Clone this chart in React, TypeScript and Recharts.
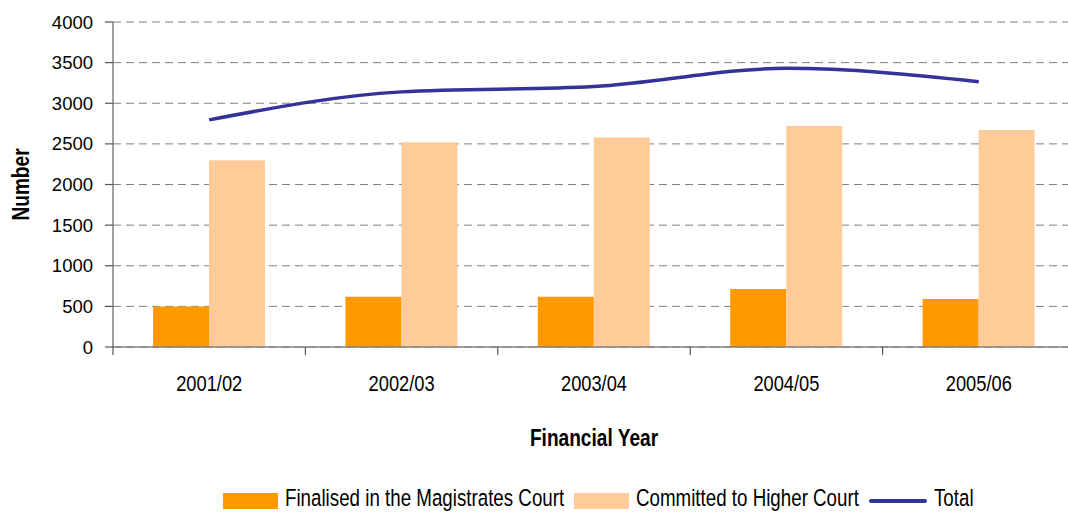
import React from 'react';
import { ComposedChart, Bar, Line, XAxis, YAxis, CartesianGrid, Legend, Label } from 'recharts';

const years = ['2001/02', '2002/03', '2003/04', '2004/05', '2005/06'];
const magistrates = [500, 620, 620, 715, 590];
const committed = [2300, 2520, 2580, 2720, 2670];
const totals = [2795, 3140, 3205, 3430, 3265];
const yTicks = [0, 500, 1000, 1500, 2000, 2500, 3000, 3500, 4000];
const seriesNames = ['Finalised in the Magistrates Court', 'Committed to Higher Court', 'Total'];

const data = years.map((y, i) => ({
  year: y,
  mag: magistrates[i],
  com: committed[i],
  total: totals[i],
}));

const FONT = "'Liberation Sans', Arial, sans-serif";
const SQUEEZE = 0.78;
const LEGEND_SQUEEZE = 0.765;
const TICK_SQUEEZE = 0.85;
const TICK_MARGIN = 29;

let measureCtx: CanvasRenderingContext2D | null = null;
function textWidth(t: string, font: string): number {
  if (!measureCtx) measureCtx = document.createElement('canvas').getContext('2d');
  if (!measureCtx) return t.length * 12;
  measureCtx.font = font;
  return measureCtx.measureText(t).width;
}

const CondensedSpan = ({ text, size, squeeze }: { text: string; size: number; squeeze: number }) => {
  const w = textWidth(text, `${size}px ${FONT}`);
  return (
    <span style={{ display: 'inline-block', width: w * squeeze, whiteSpace: 'nowrap', overflow: 'visible' }}>
      <span style={{ display: 'inline-block', transform: `scaleX(${squeeze})`, transformOrigin: 'left center' }}>
        {text}
      </span>
    </span>
  );
};

const renderLegend = (props: any) => {
  const payload = [...(props.payload || [])].sort(
    (a: any, b: any) => seriesNames.indexOf(a.value) - seriesNames.indexOf(b.value)
  );
  return (
    <div
      style={{
        display: 'flex',
        justifyContent: 'center',
        alignItems: 'center',
        height: 30,
        fontFamily: FONT,
        fontSize: 24.5,
        color: '#000',
      }}
    >
      {payload.map((entry: any, i: number) => (
        <div key={entry.value} style={{ display: 'flex', alignItems: 'center', marginLeft: i === 0 ? 0 : 10 }}>
          {entry.type === 'line' ? (
            <svg width={58} height={18} style={{ display: 'block', position: 'relative', top: 3 }}>
              <line x1={2} y1={9} x2={56} y2={9} stroke={entry.color} strokeWidth={4} strokeLinecap="round" />
            </svg>
          ) : (
            <div style={{ width: 55, height: 16, background: entry.color, position: 'relative', top: 3 }} />
          )}
          <span style={{ marginLeft: 7 }}>
            <CondensedSpan text={entry.value} size={24.5} squeeze={LEGEND_SQUEEZE} />
          </span>
        </div>
      ))}
    </div>
  );
};

const CategoryTick = (props: any) => {
  const { x, y, payload, index, visibleTicksCount } = props;
  const off = payload && payload.offset != null ? payload.offset : 0;
  const axisY = y - TICK_MARGIN;
  const isLast = index === visibleTicksCount - 1;
  return (
    <g>
      <line x1={x - off} x2={x - off} y1={axisY} y2={axisY + 8} stroke="#555" strokeWidth={1.2} />
      {isLast && <line x1={x + off} x2={x + off} y1={axisY} y2={axisY + 8} stroke="#555" strokeWidth={1.2} />}
      <text
        x={0}
        y={0}
        dy="0.71em"
        textAnchor="middle"
        transform={`translate(${x},${y}) scale(${TICK_SQUEEZE},1)`}
        fill="#000"
        fontSize={21.5}
        fontFamily={FONT}
      >
        {payload.value}
      </text>
    </g>
  );
};

const XTitle = (props: any) => {
  const vb = props.viewBox || { x: 0, y: 0, width: 0, height: 0 };
  const cx = vb.x + vb.width / 2;
  const by = vb.y + vb.height - 37;
  return (
    <text
      x={0}
      y={0}
      textAnchor="middle"
      transform={`translate(${cx},${by}) scale(${SQUEEZE},1)`}
      fill="#000"
      fontSize={24.5}
      fontWeight="bold"
      fontFamily={FONT}
    >
      Financial Year
    </text>
  );
};

const YTitle = (props: any) => {
  const vb = props.viewBox || { x: 0, y: 0, width: 0, height: 0 };
  const cy = vb.y + vb.height / 2;
  return (
    <text
      x={0}
      y={0}
      dy="0.36em"
      textAnchor="middle"
      transform={`translate(${vb.x + 20},${cy}) rotate(-90) scale(${SQUEEZE},1)`}
      fill="#000"
      fontSize={24.5}
      fontWeight="bold"
      fontFamily={FONT}
    >
      Number
    </text>
  );
};

export default function App() {
  return (
    <div
      style={{
        position: 'absolute',
        left: 0,
        top: 0,
        width: 1068,
        height: 513,
        overflow: 'hidden',
        background: '#fff',
      }}
    >
      <ComposedChart
        width={1090}
        height={513}
        data={data}
        margin={{ top: 22, right: 15, bottom: 0, left: 0 }}
        barGap={0}
      >
        <CartesianGrid vertical={false} stroke="#808080" strokeDasharray="8 5" />
        <XAxis
          dataKey="year"
          axisLine={{ stroke: '#808080', strokeWidth: 1.5 }}
          tickLine={false}
          tickSize={0}
          tickMargin={TICK_MARGIN}
          height={136}
          interval={0}
          tick={<CategoryTick />}
        >
          <Label content={<XTitle />} />
        </XAxis>
        <YAxis
          width={113}
          domain={[0, 4000]}
          ticks={yTicks}
          interval={0}
          tickSize={8}
          tickMargin={12}
          axisLine={{ stroke: '#808080', strokeWidth: 1.5 }}
          tickLine={{ stroke: '#555', strokeWidth: 1.2 }}
          tick={{ fill: '#000', fontSize: 18.5, fontFamily: FONT }}
        >
          <Label content={<YTitle />} />
        </YAxis>
        <Legend
          verticalAlign="bottom"
          content={renderLegend}
          wrapperStyle={{ left: 121, width: 954 }}
        />
        <Bar
          dataKey="mag"
          name={seriesNames[0]}
          fill="#FF9900"
          barSize={56}
          legendType="rect"
          isAnimationActive={false}
        />
        <Bar
          dataKey="com"
          name={seriesNames[1]}
          fill="#FFCC99"
          barSize={56}
          legendType="rect"
          isAnimationActive={false}
        />
        <Line
          dataKey="total"
          name={seriesNames[2]}
          type="monotone"
          stroke="#333399"
          strokeWidth={3.5}
          dot={false}
          activeDot={false}
          legendType="line"
          isAnimationActive={false}
        />
      </ComposedChart>
    </div>
  );
}
